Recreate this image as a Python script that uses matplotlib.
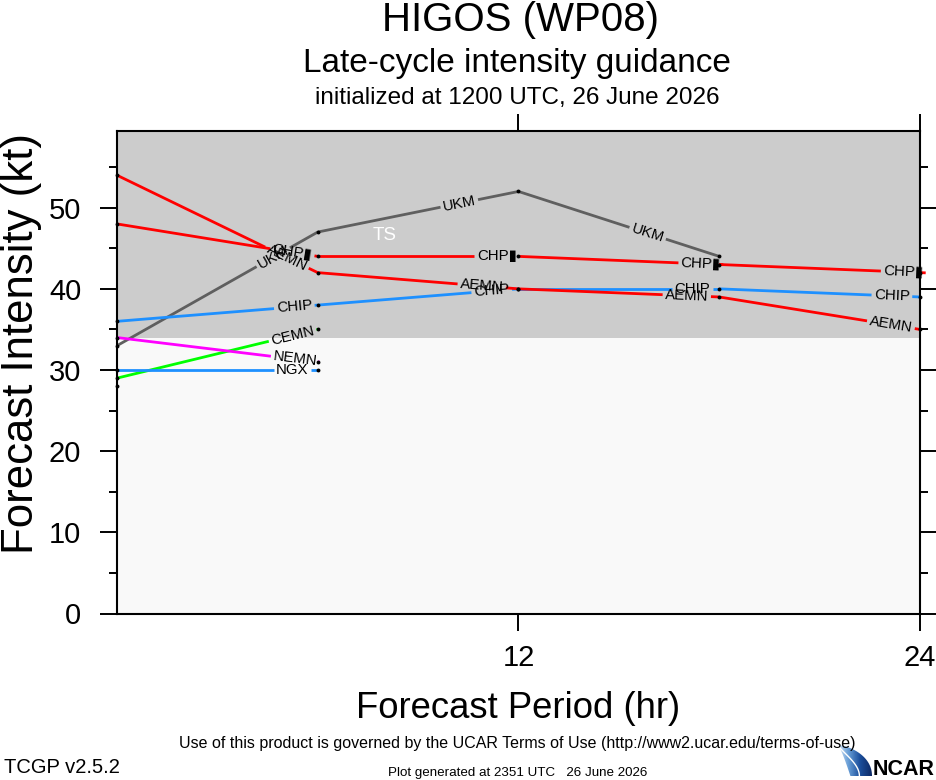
import matplotlib
matplotlib.use("Agg")
import matplotlib.pyplot as plt
import numpy as np
from matplotlib.path import Path
from matplotlib.patches import PathPatch
from matplotlib.colors import LinearSegmentedColormap

# ---------------- data ----------------
hours = [0, 6, 12, 18, 24]
ukm = [33, 47, 52, 44]
chp = [48, 44, 44, 43, 42]
aemn = [54, 42, 40, 39, 35]
chip = [36, 38, 40, 40, 39]
nemn = [34, 31]
cemn = [29, 35]
ngx = [30, 30]
init_only = [28]          # unlabeled model with only an initial value
ts_threshold = 34
xticks = [12, 24]
yticks_major = [0, 10, 20, 30, 40, 50]
yticks_minor = [5, 15, 25, 35, 45, 55]

series = [
    # name, label text, values, colour
    ("UKM", "UKM", ukm, "#5f5f5f"),
    ("CEMN", "CEMN", cemn, "#00ff00"),
    ("NEMN", "NEMN", nemn, "#ff00ff"),
    ("NGX", "NGX", ngx, "#1e90ff"),
    ("CHIP", "CHIP", chip, "#1e90ff"),
    ("AEMN", "AEMN", aemn, "#ff0000"),
    ("CHP", "CHP\u25ae", chp, "#ff0000"),
]
# where along each segment (in forecast hours) the line label sits
label_hours = {
    "UKM": [4.67, 10.23, 15.86],
    "CHP": [5.24, 11.35, 17.45, 23.5],
    "AEMN": [5.08, 10.9, 17.03, 23.13],
    "CHIP": [5.3, 11.2, 17.2, 23.16],
    "NEMN": [5.33],
    "CEMN": [5.25],
    "NGX": [5.24],
}

plt.rcParams["font.family"] = ["Liberation Sans", "DejaVu Sans"]

W, H = 937, 780
fig = plt.figure(figsize=(W / 100, H / 100), dpi=100)


def fx(px):
    return px / W


def fy(py):
    return 1 - py / H


ax = fig.add_axes([fx(117), fy(613.5), fx(920) - fx(117), fy(131) - fy(613.5)])
ymax = 59.45
ax.set_xlim(0, 24)
ax.set_ylim(0, ymax)
ax.axhspan(ts_threshold, ymax, color="#cccccc", zorder=0, lw=0)
ax.axhspan(0, ts_threshold, color="#f9f9f9", zorder=0, lw=0)
ax.text(8.0, 46.6, "TS", color="white", fontsize=13.5, ha="center", va="center", zorder=2)

for s in ax.spines.values():
    s.set_linewidth(1.5)
    s.set_zorder(10)

ax.set_xticks(xticks)
ax.set_xticklabels([str(t) for t in xticks])
ax.set_yticks(yticks_major)
ax.set_yticks(yticks_minor, minor=True)
ax.tick_params(axis="both", which="major", direction="out", length=12.2, width=1.4,
               labelsize=21, top=True, right=True)
ax.tick_params(axis="y", which="minor", direction="out", length=6.1, width=1.4, right=True)
ax.tick_params(axis="x", which="major", pad=9.5)
ax.tick_params(axis="y", which="major", pad=13.5)

fig.canvas.draw()
renderer = fig.canvas.get_renderer()
inv = ax.transData.inverted()
lw = 2.0
gap_pad = 2.5

for name, lab, vals, col in series:
    xs = np.array(hours[: len(vals)], dtype=float)
    ys = np.array(vals, dtype=float)
    pts = ax.transData.transform(np.column_stack([xs, ys]))
    for i in range(len(pts) - 1):
        p0, p1 = pts[i], pts[i + 1]
        d = p1 - p0
        L = np.hypot(d[0], d[1])
        u = d / L
        ang = np.degrees(np.arctan2(d[1], d[0]))
        t = (label_hours[name][i] - xs[i]) / (xs[i + 1] - xs[i])
        c = p0 + d * t
        cd = inv.transform(c)
        txt = ax.text(cd[0], cd[1], lab, fontsize=10.8, ha="center", va="center",
                      rotation=0, rotation_mode="anchor", zorder=6, color="black")
        w = txt.get_window_extent(renderer).width
        txt.set_rotation(ang)
        half = w / 2 + gap_pad
        a = c - u * half
        b = c + u * half
        s1 = inv.transform(np.array([p0, a]))
        s2 = inv.transform(np.array([b, p1]))
        for sg in (s1, s2):
            ax.plot(sg[:, 0], sg[:, 1], color=col, lw=lw, solid_capstyle="butt",
                    zorder=4, clip_on=False)
    ax.plot(xs, ys, "o", color="black", ms=2.8, zorder=7, clip_on=False, mew=0)

ax.plot(hours[: len(init_only)], init_only, "o", color="black", ms=2.8, zorder=7,
        clip_on=False, mew=0)

# ---------------- titles / labels ----------------
fig.text(fx(520), fy(31), "HIGOS (WP08)", fontsize=29, ha="center", va="baseline")
fig.text(fx(517), fy(72), "Late-cycle intensity guidance", fontsize=24, ha="center", va="baseline")
fig.text(fx(517), fy(104), "initialized at 1200 UTC, 26 June 2026", fontsize=17.5,
         ha="center", va="baseline")
fig.text(fx(518), fy(718), "Forecast Period (hr)", fontsize=26.3, ha="center", va="baseline")
fig.text(fx(33), fy(343), "Forecast Intensity (kt)", fontsize=31.5, ha="center", va="baseline",
         rotation=90, rotation_mode="anchor")

fig.text(fx(517), fy(748), "Use of this product is governed by the UCAR Terms of Use "
         "(http://www2.ucar.edu/terms-of-use)", fontsize=11.5, ha="center", va="baseline")
fig.text(fx(4), fy(773), "TCGP v2.5.2", fontsize=14.5, ha="left", va="baseline")
fig.text(fx(518), fy(776), "Plot generated at 2351 UTC   26 June 2026", fontsize=9.6,
         ha="center", va="baseline")

# ---------------- NCAR logo ----------------
lax = fig.add_axes([fx(836), fy(776), fx(872) - fx(836), fy(745) - fy(776)])
lax.set_xlim(0, 1)
lax.set_ylim(0, 1)
lax.axis("off")
tt = np.linspace(0, 1, 30)
outer = np.column_stack([0.05 + 0.95 * np.sin(tt * np.pi / 2), 1 - tt ** 1.6])
inner = np.column_stack([0.05 + 0.35 * tt ** 0.8, 1 - tt])[::-1]
verts = np.vstack([outer, inner, outer[:1]])
clip = PathPatch(Path(verts), transform=lax.transData, facecolor="none", edgecolor="none")
lax.add_patch(clip)
grad = np.linspace(0, 1, 64)[None, :]
cm = LinearSegmentedColormap.from_list("ncar", ["#e6f0fa", "#6aa0d8", "#1c4f9c", "#0d2a66"])
im = lax.imshow(grad, extent=[0, 1, 0, 1], cmap=cm, aspect="auto", origin="lower")
im.set_clip_path(clip)
arc = np.column_stack([0.05 + 0.6 * np.sin(tt * np.pi / 2) ** 1.2, 1 - tt])
lax.plot(arc[:, 0], arc[:, 1], color="white", lw=1.0)
fig.text(fx(935), fy(775), "NCAR", fontsize=15.5, fontweight="bold", ha="right", va="baseline")

fig.savefig("out.png", dpi=100)
